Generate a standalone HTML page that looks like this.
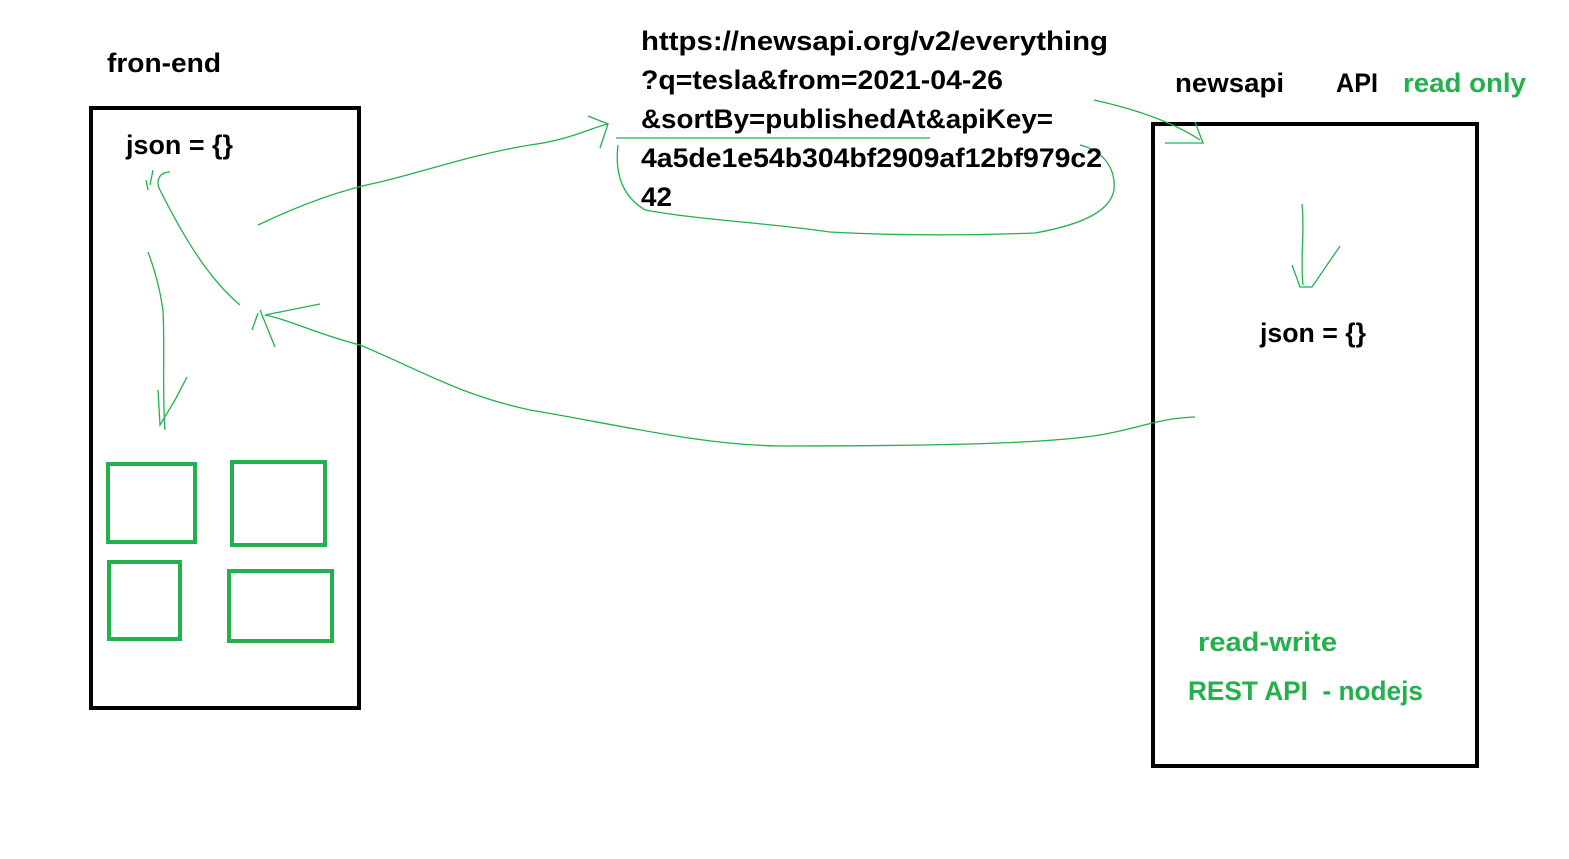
<!DOCTYPE html>
<html><head><meta charset="utf-8"><style>
html,body{margin:0;padding:0;background:#fff;}
body{width:1569px;height:859px;position:relative;overflow:hidden;}
svg{position:absolute;left:0;top:0;}
text{font-family:"Liberation Sans",sans-serif;font-weight:bold;font-size:27px;}
</style></head><body>
<svg width="1569" height="859" viewBox="0 0 1569 859">
<rect x="91" y="108" width="268" height="600" fill="none" stroke="#000" stroke-width="4"/>
<rect x="1153" y="124" width="324" height="642" fill="none" stroke="#000" stroke-width="4"/>
<g fill="none" stroke="#22b14c" stroke-width="4">
<rect x="108" y="464" width="87" height="78"/>
<rect x="232" y="462" width="93" height="83"/>
<rect x="109" y="562" width="71" height="77"/>
<rect x="229" y="571" width="103" height="70"/>
</g>
<g fill="none" stroke="#22b14c" stroke-width="1.3">
<path d="M258 225 C300 205 340 190 380 182 C430 170 470 155 530 145 C570 140 590 128 608 124"/>
<path d="M588 116 L608 124 L600 148"/>
<path d="M616 138 L930 138 M618 145 C615 170 620 195 645 210 C700 220 760 222 830 232 C900 236 980 235 1035 233 C1080 225 1110 212 1114 190 C1116 165 1100 150 1080 145"/>
<path d="M1094 100 C1130 108 1170 120 1200 140 M1165 143 L1203 143 L1195 122"/>
<path d="M1302 204 C1305 230 1300 260 1303 285 M1292 265 L1300 287 L1312 287 L1340 246"/>
<path d="M1195 417 C1160 418 1140 428 1100 435 C1050 443 950 446 780 446 C700 445 620 425 530 410 C460 395 420 370 360 345 C320 335 290 320 265 315 L320 304"/>
<path d="M260 310 L275 347 M258 313 L252 330"/>
<path d="M240 305 C210 280 185 240 160 190 C155 180 160 172 170 172 M150 185 L153 170 M148 190 L146 180"/>
<path d="M148 252 C155 270 160 290 163 310 C165 350 162 390 165 430 M158 390 L160 425 L175 400 L187 377"/>
</g>
<text x="107" y="72" textLength="114" lengthAdjust="spacingAndGlyphs">fron-end</text>
<text x="126" y="154" textLength="107" lengthAdjust="spacingAndGlyphs">json = {}</text>
<text x="641" y="50" textLength="467" lengthAdjust="spacingAndGlyphs">https://newsapi.org/v2/everything</text>
<text x="641" y="89" textLength="362" lengthAdjust="spacingAndGlyphs">?q=tesla&amp;from=2021-04-26</text>
<text x="641" y="128" textLength="412" lengthAdjust="spacingAndGlyphs">&amp;sortBy=publishedAt&amp;apiKey=</text>
<text x="641" y="167" textLength="461" lengthAdjust="spacingAndGlyphs">4a5de1e54b304bf2909af12bf979c2</text>
<text x="641" y="206" textLength="31" lengthAdjust="spacingAndGlyphs">42</text>
<text x="1175" y="92" textLength="109" lengthAdjust="spacingAndGlyphs">newsapi</text>
<text x="1336" y="92" textLength="42" lengthAdjust="spacingAndGlyphs">API</text>
<text x="1403" y="92" fill="#22b14c" textLength="123" lengthAdjust="spacingAndGlyphs">read only</text>
<text x="1260" y="342" textLength="106" lengthAdjust="spacingAndGlyphs">json = {}</text>
<text x="1198" y="651" fill="#22b14c" textLength="139" lengthAdjust="spacingAndGlyphs">read-write</text>
<text x="1188" y="700" fill="#22b14c" xml:space="preserve" textLength="235" lengthAdjust="spacingAndGlyphs">REST API  - nodejs</text>
</svg>
</body></html>
